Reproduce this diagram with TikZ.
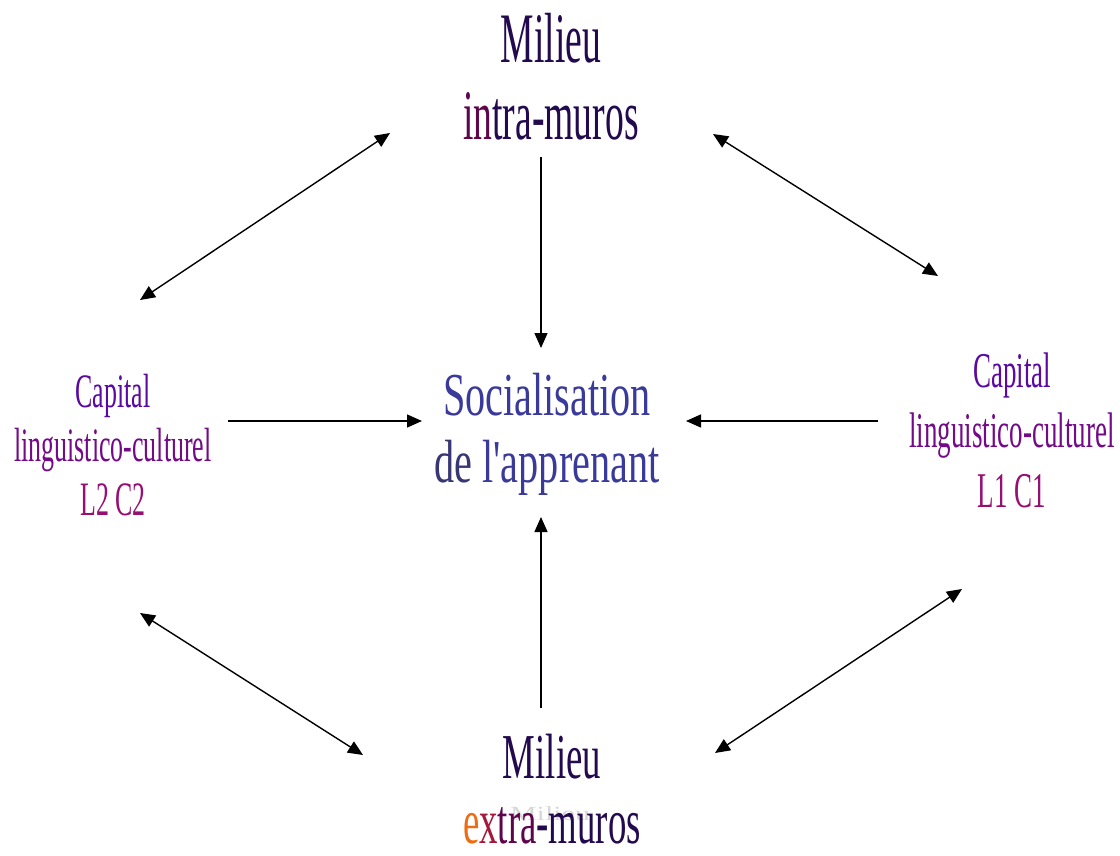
\documentclass[tikz,border=0pt]{standalone}
\usepackage{fontspec}
\setmainfont{Liberation Serif}
\newfontfamily\narrowtop[FakeStretch=0.53]{Liberation Serif}
\newfontfamily\narrowmid[FakeStretch=0.66]{Liberation Serif}
\newfontfamily\narrowcap[FakeStretch=0.54]{Liberation Serif}
\newfontfamily\narrowbot[FakeStretch=0.575]{Liberation Serif}
\newfontfamily\wideghost[FakeStretch=1.5]{Liberation Serif}
\usetikzlibrary{arrows.meta}
\definecolor{milieu}{RGB}{35,10,78}
\definecolor{milieured}{RGB}{95,5,75}
\definecolor{capblue}{RGB}{90,10,160}
\definecolor{capmid}{RGB}{115,10,135}
\definecolor{capred}{RGB}{150,15,115}
\definecolor{socblue}{RGB}{58,58,155}
\definecolor{socdark}{RGB}{55,55,115}
\definecolor{exorange}{RGB}{235,110,20}
\definecolor{exred}{RGB}{165,25,60}
\definecolor{ghost}{RGB}{215,215,215}

\begin{document}
\begin{tikzpicture}[x=1pt, y=-1pt,
    every node/.style={align=center, inner sep=0pt, anchor=base},
    arr/.style={-{Triangle[length=15pt,width=13pt]}, line width=1.4pt},
    darr/.style={{Triangle[length=15pt,width=13pt]}-{Triangle[length=15pt,width=13pt]}, line width=1.4pt}]
  \useasboundingbox (0,0) rectangle (1120,855);

  % the two milieux (base = last line)
  \node[font=\narrowtop\fontsize{71}{77}\selectfont, text=milieu] (intra) at (551,139)
    {Milieu\\\textcolor{milieured}{in}tra-muros};
  \node[font=\wideghost\fontsize{20}{20}\selectfont, text=ghost] (ghost) at (550,820) {Milieu};
  \node[font=\narrowbot\fontsize{64}{65}\selectfont, text=milieu] (extra) at (552,843)
    {Milieu\\\textcolor{exorange}{e}\textcolor{exred}{x}\textcolor{milieured}{tra}-muros};

  % centre
  \node[font=\narrowmid\fontsize{61}{67}\selectfont, text=socblue] (social) at (547,482)
    {Socialisation\\\textcolor{socdark}{de} l'apprenant};

  % the two capitals
  \node[font=\narrowcap\fontsize{48}{54}\selectfont, text=capblue] (capL) at (113,515)
    {Capital\\\textcolor{capmid}{linguistico-culturel}\\\textcolor{capred}{L2 C2}};
  \node[font=\narrowcap\fontsize{50}{60}\selectfont, text=capblue] (capR) at (1012,507)
    {Capital\\\textcolor{capmid}{linguistico-culturel}\\\textcolor{capred}{L1 C1}};

  % arrow ends
  \coordinate (intraS) at (541,157);
  \coordinate (socN) at (541,348);
  \coordinate (extraN) at (541,708);
  \coordinate (socS) at (541,517);
  \coordinate (capLE) at (228,421);
  \coordinate (socW) at (422,421);
  \coordinate (capRW) at (878,421);
  \coordinate (socE) at (686,421);
  \coordinate (capLNE) at (140,300);
  \coordinate (intraW) at (390,133);
  \coordinate (intraE) at (713,134);
  \coordinate (capRNW) at (938,276);
  \coordinate (capLSE) at (140,613);
  \coordinate (extraW) at (363,755);
  \coordinate (extraE) at (715,753);
  \coordinate (capRSW) at (962,589);

  \draw[arr] (intraS) -- (socN);
  \draw[arr] (extraN) -- (socS);
  \draw[arr] (capLE) -- (socW);
  \draw[arr] (capRW) -- (socE);
  \draw[darr] (capLNE) -- (intraW);
  \draw[darr] (intraE) -- (capRNW);
  \draw[darr] (capLSE) -- (extraW);
  \draw[darr] (extraE) -- (capRSW);
\end{tikzpicture}
\end{document}
